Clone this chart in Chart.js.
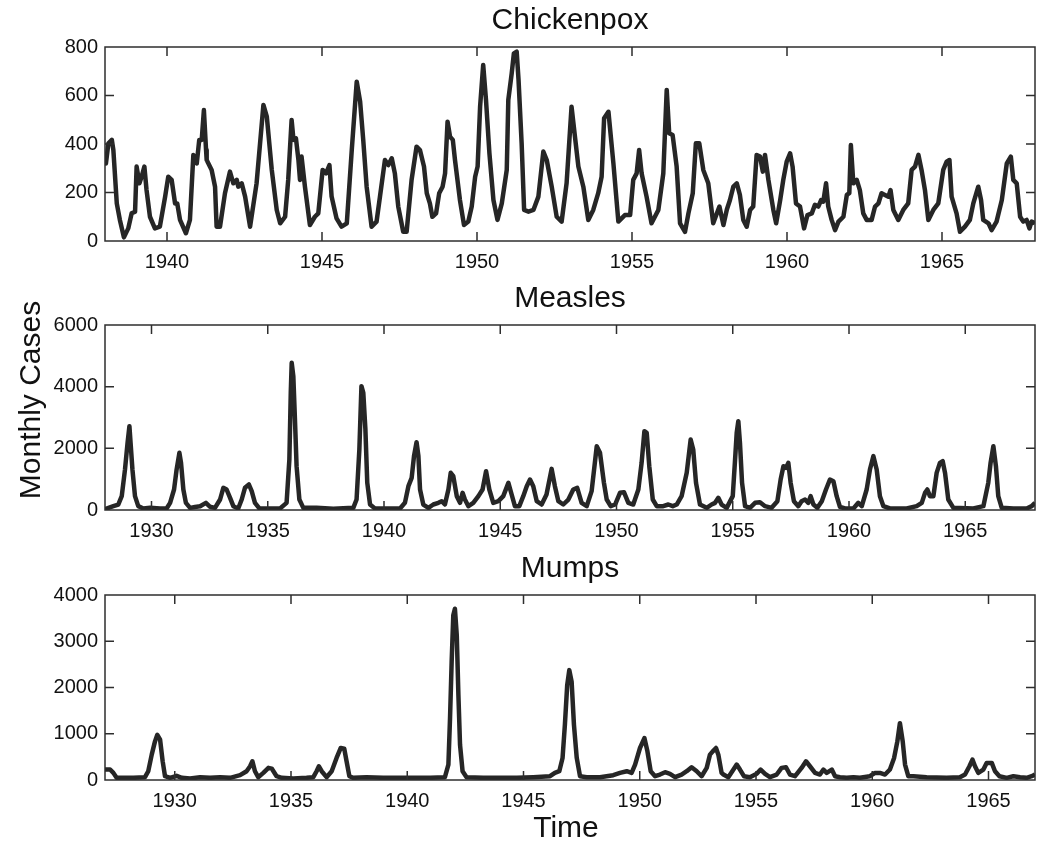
<!DOCTYPE html>
<html>
<head>
<meta charset="utf-8">
<title>Monthly cases: chickenpox, measles, mumps</title>
<script src="https://cdn.jsdelivr.net/npm/chart.js@4.4.1/dist/chart.umd.min.js"></script>
<style>
  body { margin: 0; background: #fff; }
  #wrap { position: relative; width: 1046px; height: 843px; overflow: hidden; font-family: "Liberation Sans", Arial, sans-serif; color: #111; }
  #wrap canvas { position: absolute; left: 0; }
  .axis-label { position: absolute; font-size: 30px; line-height: 30px; height: 30px; text-align: center; white-space: nowrap; }
</style>
</head>
<body>
<div id="wrap">
  <canvas id="js--chickenpox" width="1046" height="276" style="top:0px"></canvas>
  <canvas id="js--measles" width="1046" height="267" style="top:278px"></canvas>
  <canvas id="js--mumps" width="1046" height="267" style="top:548px"></canvas>
  <div class="axis-label" style="left:-120px; top:385px; width:300px; transform:rotate(-90deg);">Monthly Cases</div>
  <div class="axis-label" style="left:466px; top:812px; width:200px;">Time</div>
</div>
<script>
// monthly case counts, time in decimal years
const chickenpoxYears = [
  1938.00, 1938.03, 1938.11, 1938.22, 1938.27, 1938.38, 1938.48, 1938.61, 1938.75, 1938.86, 1938.97,
  1939.02, 1939.11, 1939.18, 1939.27, 1939.34, 1939.45, 1939.61, 1939.77, 1939.94,
  1940.04, 1940.15, 1940.26, 1940.33, 1940.42, 1940.61, 1940.74, 1940.85, 1940.96,
  1941.04, 1941.12, 1941.19, 1941.26, 1941.28, 1941.44, 1941.55, 1941.60, 1941.71, 1941.87,
  1942.03, 1942.14, 1942.25, 1942.30, 1942.41, 1942.52, 1942.68, 1942.89,
  1943.11, 1943.22, 1943.38, 1943.54, 1943.65, 1943.81, 1943.91,
  1944.02, 1944.08, 1944.16, 1944.24, 1944.29, 1944.34, 1944.45, 1944.61, 1944.77, 1944.88,
  1945.02, 1945.13, 1945.24, 1945.31, 1945.47, 1945.63, 1945.80, 1945.96,
  1946.12, 1946.23, 1946.33, 1946.44, 1946.60, 1946.76, 1946.87,
  1947.03, 1947.14, 1947.25, 1947.35, 1947.46, 1947.62, 1947.73, 1947.89,
  1948.05, 1948.16, 1948.29, 1948.38, 1948.48, 1948.56, 1948.68, 1948.78, 1948.89, 1948.97,
  1949.05, 1949.13, 1949.22, 1949.29, 1949.45, 1949.58, 1949.72, 1949.83, 1949.94,
  1950.02, 1950.10, 1950.20, 1950.29, 1950.40, 1950.53, 1950.66, 1950.80, 1950.96,
  1951.01, 1951.12, 1951.19, 1951.28, 1951.34, 1951.44, 1951.52, 1951.66, 1951.82, 1951.98,
  1952.14, 1952.25, 1952.41, 1952.57, 1952.73, 1952.89,
  1953.05, 1953.16, 1953.27, 1953.43, 1953.59, 1953.75, 1953.91,
  1954.02, 1954.10, 1954.24, 1954.40, 1954.56, 1954.77, 1954.94,
  1955.04, 1955.15, 1955.23, 1955.31, 1955.47, 1955.63, 1955.85,
  1956.01, 1956.12, 1956.20, 1956.31, 1956.44, 1956.55, 1956.71, 1956.82, 1956.96,
  1957.06, 1957.17, 1957.30, 1957.46, 1957.62, 1957.82, 1957.95,
  1958.06, 1958.16, 1958.27, 1958.38, 1958.48, 1958.59, 1958.70, 1958.81, 1958.91,
  1959.02, 1959.13, 1959.22, 1959.29, 1959.40, 1959.56, 1959.65, 1959.78, 1959.88, 1959.99,
  1960.10, 1960.18, 1960.29, 1960.42, 1960.55, 1960.66, 1960.80, 1960.90,
  1961.01, 1961.10, 1961.17, 1961.26, 1961.33, 1961.44, 1961.55, 1961.66, 1961.82, 1961.93,
  1962.01, 1962.06, 1962.14, 1962.25, 1962.35, 1962.46, 1962.57, 1962.73, 1962.84, 1962.95,
  1963.05, 1963.16, 1963.27, 1963.34, 1963.43, 1963.59, 1963.75, 1963.91,
  1964.02, 1964.13, 1964.24, 1964.34, 1964.45, 1964.56, 1964.72, 1964.88,
  1965.04, 1965.15, 1965.24, 1965.31, 1965.47, 1965.58, 1965.74, 1965.90,
  1966.01, 1966.17, 1966.26, 1966.33, 1966.50, 1966.60, 1966.76, 1966.93,
  1967.09, 1967.22, 1967.30, 1967.41, 1967.52, 1967.62, 1967.73, 1967.82, 1967.89, 1968.00
];
const chickenpoxCases = [
  330, 320, 403, 417, 375, 155, 87, 15, 52, 114, 121,
  307, 238, 265, 307, 210, 100, 52, 59, 183,
  265, 252, 155, 155, 87, 32, 87, 355, 320,
  417, 417, 540, 375, 334, 293, 224, 59, 59, 197,
  286, 238, 252, 224, 238, 183, 59, 238,
  561, 513, 293, 128, 73, 100, 252,
  499, 417, 423, 334, 252, 348, 224, 66, 100, 114,
  293, 279, 313, 183, 93, 59, 73, 375,
  657, 575, 417, 224, 59, 80, 183,
  334, 313, 341, 279, 142, 38, 38, 252,
  389, 375, 307, 197, 155, 100, 114, 197, 224, 279,
  492, 430, 417, 334, 169, 66, 80, 142, 265,
  307, 554, 726, 582, 362, 169, 87, 155, 293,
  582, 692, 774, 781, 664, 403, 128, 121, 128, 183,
  369, 334, 224, 100, 80, 238,
  554, 430, 307, 224, 87, 128, 197,
  265, 506, 533, 320, 80, 107, 107,
  252, 279, 375, 279, 183, 73, 128,
  279, 623, 444, 437, 307, 73, 38, 114, 197,
  403, 403, 293, 238, 73, 142, 66,
  130, 169, 224, 238, 190, 87, 59, 128, 142,
  355, 348, 286, 355, 252, 128, 73, 169, 252, 327,
  362, 307, 155, 142, 52, 107, 114, 149,
  142, 169, 162, 238, 142, 87, 45, 80, 100, 190,
  197, 396, 238, 252, 210, 114, 87, 87, 142, 155,
  197, 190, 183, 210, 128, 87, 128, 155,
  293, 307, 355, 293, 210, 87, 128, 155,
  293, 327, 334, 183, 114, 38, 59, 87,
  155, 224, 169, 87, 73, 45, 80, 169,
  320, 348, 252, 238, 100, 80, 87, 52, 80, 73
];
const chickenpoxTicks = [1940, 1945, 1950, 1955, 1960, 1965];

const measlesYears = [
  1928.00, 1928.36, 1928.57, 1928.72, 1928.86, 1928.97, 1929.05, 1929.10, 1929.18, 1929.29, 1929.43, 1929.65, 1929.94,
  1930.37, 1930.65, 1930.80, 1930.97, 1931.08, 1931.20, 1931.27, 1931.37, 1931.48, 1931.66, 1931.87,
  1932.09, 1932.34, 1932.52, 1932.73, 1932.95, 1933.09, 1933.23, 1933.38, 1933.52, 1933.73, 1933.88,
  1934.02, 1934.19, 1934.31, 1934.45, 1934.64, 1935.53, 1935.81, 1935.93, 1935.99,
  1936.03, 1936.10, 1936.17, 1936.24, 1936.36, 1936.53, 1937.10, 1937.82,
  1938.68, 1938.82, 1938.94, 1939.03, 1939.11, 1939.20, 1939.28, 1939.40, 1939.61,
  1940.69, 1940.90, 1941.05, 1941.19, 1941.29, 1941.40, 1941.48, 1941.55, 1941.69, 1941.91,
  1942.12, 1942.34, 1942.48, 1942.62, 1942.77, 1942.87, 1942.98,
  1943.13, 1943.27, 1943.38, 1943.48, 1943.63, 1943.84,
  1944.06, 1944.24, 1944.39, 1944.53, 1944.70, 1944.92,
  1945.13, 1945.35, 1945.49, 1945.63, 1945.82, 1945.99,
  1946.14, 1946.28, 1946.42, 1946.57, 1946.78, 1946.99,
  1947.21, 1947.35, 1947.50, 1947.71, 1947.93,
  1948.14, 1948.31, 1948.50, 1948.72, 1948.93,
  1949.15, 1949.29, 1949.46, 1949.58, 1949.75, 1949.94,
  1950.15, 1950.32, 1950.51, 1950.72, 1950.94,
  1951.08, 1951.20, 1951.30, 1951.41, 1951.56, 1951.73,
  1952.01, 1952.23, 1952.42, 1952.59, 1952.80,
  1953.02, 1953.19, 1953.30, 1953.42, 1953.59, 1953.88,
  1954.09, 1954.24, 1954.38, 1954.52, 1954.74,
  1955.00, 1955.10, 1955.17, 1955.24, 1955.31, 1955.40, 1955.53, 1955.74, 1955.96,
  1956.17, 1956.39, 1956.67, 1956.92,
  1957.06, 1957.18, 1957.29, 1957.39, 1957.49, 1957.63, 1957.82, 1957.96,
  1958.11, 1958.25, 1958.35, 1958.47, 1958.64, 1958.83,
  1959.01, 1959.18, 1959.33, 1959.47, 1959.61, 1959.83,
  1960.19, 1960.40, 1960.55, 1960.76, 1960.90,
  1961.05, 1961.19, 1961.33, 1961.48, 1961.76, 1962.48, 1962.91,
  1963.13, 1963.27, 1963.37, 1963.48, 1963.63, 1963.77, 1963.91,
  1964.03, 1964.13, 1964.27, 1964.49, 1965.35, 1965.78, 1965.99,
  1966.09, 1966.21, 1966.32, 1966.42, 1966.57, 1967.07, 1967.64, 1967.86, 1968.00
];
const measlesCases = [
  30, 124, 178, 449, 1313, 2178, 2719, 2178, 1313, 449, 124, 50, 70,
  50, 50, 232, 665, 1313, 1854, 1529, 665, 232, 70, 100,
  124, 232, 103, 70, 340, 719, 665, 395, 124, 50, 340,
  719, 827, 611, 232, 50, 50, 232, 1638, 3800,
  4773, 4340, 2935, 1421, 340, 70, 70, 40,
  70, 340, 1962, 4016, 3800, 2611, 881, 178, 50,
  50, 232, 773, 1043, 1746, 2200, 1746, 665, 178, 70,
  178, 232, 286, 178, 665, 1205, 1097,
  449, 232, 557, 340, 124, 232,
  449, 665, 1259, 665, 232, 286,
  449, 881, 503, 124, 124, 449,
  773, 989, 773, 286, 178, 503,
  1335, 773, 286, 178, 340,
  665, 719, 232, 124, 611,
  2070, 1854, 881, 340, 124, 178,
  557, 578, 232, 178, 665,
  1530, 2557, 2503, 1421, 340, 124,
  124, 178, 124, 178, 449,
  1205, 2286, 1962, 881, 178, 70,
  178, 232, 395, 178, 70,
  449, 1638, 2503, 2881, 2178, 881, 124, 70, 232,
  254, 124, 70, 286,
  989, 1421, 1367, 1529, 881, 286, 124, 286,
  340, 232, 449, 178, 70, 286,
  665, 989, 935, 449, 103, 50,
  50, 232, 124, 665, 1313,
  1746, 1313, 449, 124, 50, 50, 124,
  232, 557, 665, 449, 449, 1205, 1529,
  1583, 1205, 340, 70, 50, 124, 881,
  1529, 2070, 1421, 449, 70, 50, 50, 124, 232
];
const measlesTicks = [1930, 1935, 1940, 1945, 1950, 1955, 1960, 1965];

const mumpsYears = [
  1927.00, 1927.22, 1927.36, 1927.50, 1927.72, 1928.22, 1928.72, 1928.86,
  1929.01, 1929.15, 1929.25, 1929.37, 1929.48, 1929.58, 1929.80,
  1930.08, 1930.30, 1930.66, 1931.09, 1931.52, 1931.95, 1932.38, 1932.81,
  1933.09, 1933.24, 1933.34, 1933.45, 1933.59, 1933.81,
  1934.03, 1934.17, 1934.38, 1934.60, 1935.10, 1935.67, 1935.96,
  1936.10, 1936.20, 1936.32, 1936.53, 1936.75, 1936.96,
  1937.14, 1937.29, 1937.39, 1937.51, 1937.68, 1938.25, 1938.97, 1939.69, 1940.41, 1941.00,
  1941.62, 1941.77, 1941.84, 1941.91, 1941.98, 1942.05, 1942.13, 1942.20, 1942.27, 1942.38, 1942.55,
  1943.27, 1943.99, 1944.71, 1945.42, 1946.14, 1946.35, 1946.54, 1946.68, 1946.78, 1946.88, 1946.97,
  1947.07, 1947.17, 1947.29, 1947.43, 1947.72, 1948.29, 1948.86,
  1949.15, 1949.44, 1949.65, 1949.80, 1950.01, 1950.20, 1950.33, 1950.47, 1950.66, 1950.87,
  1951.09, 1951.30, 1951.52, 1951.80, 1952.02, 1952.23, 1952.45, 1952.66, 1952.88,
  1953.02, 1953.14, 1953.28, 1953.38, 1953.52, 1953.60, 1953.81,
  1954.03, 1954.17, 1954.31, 1954.48, 1954.74, 1955.03, 1955.20, 1955.39, 1955.60, 1955.89,
  1956.10, 1956.29, 1956.46, 1956.68, 1956.96, 1957.15, 1957.32, 1957.54, 1957.75, 1957.90,
  1958.04, 1958.26, 1958.40, 1958.61, 1958.90, 1959.19, 1959.47, 1959.90,
  1960.12, 1960.33, 1960.55, 1960.76, 1960.94, 1961.08, 1961.19, 1961.31, 1961.41, 1961.55, 1961.77,
  1962.34, 1963.20, 1963.77, 1963.99, 1964.18, 1964.31, 1964.42, 1964.56, 1964.78, 1964.92,
  1965.14, 1965.28, 1965.47, 1965.78, 1966.07, 1966.36, 1966.64, 1966.86, 1967.00
];
const mumpsCases = [
  226, 226, 154, 47, 47, 47, 61, 190,
  548, 835, 978, 871, 405, 82, 47,
  90, 47, 32, 61, 47, 61, 47, 104,
  190, 297, 405, 190, 61, 154,
  262, 247, 82, 47, 32, 47, 61,
  190, 297, 190, 61, 190, 477,
  692, 677, 405, 82, 47, 61, 47, 47, 47, 47,
  61, 333, 1337, 2556, 3559, 3702, 3129, 1839, 763, 190, 61,
  47, 47, 47, 61, 82, 154, 190, 477, 1193, 2054, 2376,
  2126, 1193, 477, 82, 61, 61, 104,
  154, 190, 154, 333, 692, 907, 620, 190, 82, 118,
  168, 133, 61, 118, 190, 276, 190, 82, 262,
  548, 620, 692, 548, 154, 118, 61,
  226, 333, 226, 82, 61, 133, 226, 133, 61, 118,
  262, 276, 118, 82, 262, 405, 297, 154, 118, 226,
  154, 226, 82, 61, 47, 61, 47, 82,
  154, 154, 118, 226, 477, 835, 1229, 835, 333, 82, 82,
  61, 47, 61, 118, 297, 441, 297, 154, 226, 369,
  369, 190, 82, 47, 82, 61, 47, 82, 118
];
const mumpsTicks = [1930, 1935, 1940, 1945, 1950, 1955, 1960, 1965];

const lineColor = "#262626";
const frameColor = "#2e2e2e";
const textColor = "#111111";

Chart.defaults.font.family = "'Liberation Sans', Arial, sans-serif";

// closed frame with inward tick marks on all four sides
const boxTicks = {
    id: "boxTicks",
    afterDraw: function(chart){
        const ctx = chart.ctx;
        const a = chart.chartArea;
        const xs = chart.scales.x;
        const ys = chart.scales.y;
        ctx.save();
        ctx.strokeStyle = frameColor;
        ctx.lineWidth = 1.5;
        ctx.strokeRect(a.left, a.top, a.right - a.left, a.bottom - a.top);
        ctx.beginPath();
        xs.ticks.forEach(function(t){
            const px = xs.getPixelForValue(t.value);
            ctx.moveTo(px, a.bottom);
            ctx.lineTo(px, a.bottom - 9);
            ctx.moveTo(px, a.top);
            ctx.lineTo(px, a.top + 9);
        });
        ys.ticks.forEach(function(t){
            if(t.value === ys.min || t.value === ys.max){
                return;
            }
            const py = ys.getPixelForValue(t.value);
            ctx.moveTo(a.left, py);
            ctx.lineTo(a.left + 9, py);
            ctx.moveTo(a.right, py);
            ctx.lineTo(a.right - 9, py);
        });
        ctx.stroke();
        ctx.restore();
    }
};

function makePanel(id, title, years, cases, yearTicks, xMin, xMax, yMax, yStep){
    const points = years.map(function(t, i){
        return {x: t, y: cases[i]};
    });
    return new Chart(document.getElementById(id), {
        type: "line",
        data: {
            datasets: [{
                label: title,
                data: points,
                borderColor: lineColor,
                borderWidth: 4.5,
                borderJoinStyle: "round",
                pointRadius: 0,
                tension: 0
            }]
        },
        options: {
            responsive: false,
            animation: false,
            layout: { padding: { left: 0, right: 11, top: 0, bottom: 0 } },
            plugins: {
                legend: { display: false },
                tooltip: { enabled: false },
                title: {
                    display: true,
                    text: title,
                    fullSize: false,
                    color: textColor,
                    font: { size: 30, weight: "normal" },
                    padding: { top: 3, bottom: 8 }
                }
            },
            scales: {
                x: {
                    type: "linear",
                    min: xMin,
                    max: xMax,
                    grid: { display: false, drawTicks: false },
                    border: { display: false },
                    afterBuildTicks: function(scale){
                        scale.ticks = yearTicks.map(function(v){ return {value: v}; });
                    },
                    ticks: {
                        autoSkip: false,
                        maxRotation: 0,
                        padding: 9,
                        color: textColor,
                        font: { size: 20 },
                        callback: function(v){ return String(v); }
                    },
                    afterFit: function(scale){ scale.height = 35; }
                },
                y: {
                    min: 0,
                    max: yMax,
                    grid: { display: false, drawTicks: false },
                    border: { display: false },
                    ticks: {
                        stepSize: yStep,
                        padding: 7,
                        color: textColor,
                        font: { size: 20 },
                        callback: function(v){ return String(v); }
                    },
                    afterFit: function(scale){ scale.width = 105; }
                }
            }
        },
        plugins: [boxTicks]
    });
}

const chart1 = makePanel("js--chickenpox", "Chickenpox", chickenpoxYears, chickenpoxCases, chickenpoxTicks, 1938, 1968, 800, 200);
const chart2 = makePanel("js--measles", "Measles", measlesYears, measlesCases, measlesTicks, 1928, 1968, 6000, 2000);
const chart3 = makePanel("js--mumps", "Mumps", mumpsYears, mumpsCases, mumpsTicks, 1927, 1967, 4000, 1000);
</script>
</body>
</html>
